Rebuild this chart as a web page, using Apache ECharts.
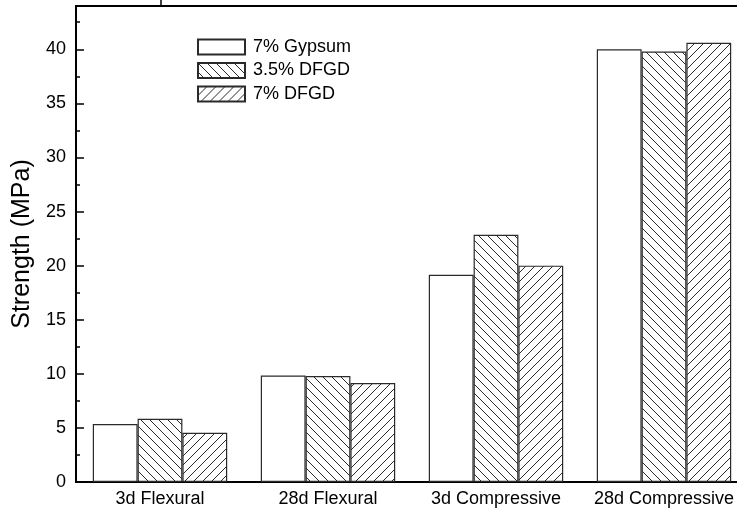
<!DOCTYPE html>
<html>
<head>
<meta charset="utf-8">
<script src="https://cdn.jsdelivr.net/npm/echarts@6/dist/echarts.min.js"></script>
<style>
html,body{margin:0;padding:0;background:#fff;}
#chart{width:737px;height:512px;}
</style>
</head>
<body>
<div id="chart"></div>
<script>
const categories = ['3d Flexural', '28d Flexural', '3d Compressive', '28d Compressive'];
const seriesNames = ['7% Gypsum', '3.5% DFGD', '7% DFGD'];
const gypsum7 = [5.35, 9.85, 19.15, 40.0];
const dfgd35 = [5.85, 9.8, 22.85, 39.8];
const dfgd7 = [4.55, 9.15, 20.0, 40.6];
const yTickLabels = [0, 5, 10, 15, 20, 25, 30, 35, 40];

function hatch(dir) {
  const s = 9;
  const c = document.createElement('canvas');
  c.width = s; c.height = s;
  const g = c.getContext('2d');
  g.fillStyle = '#fff';
  g.fillRect(0, 0, s, s);
  g.strokeStyle = '#2a2a2a';
  g.lineWidth = 1;
  g.beginPath();
  if (dir === 'back') {
    g.moveTo(-1, -1); g.lineTo(s + 1, s + 1);
    g.moveTo(-1, s - 1); g.lineTo(1, s + 1);
    g.moveTo(s - 1, -1); g.lineTo(s + 1, 1);
  } else {
    g.moveTo(-1, s + 1); g.lineTo(s + 1, -1);
    g.moveTo(-1, 1); g.lineTo(1, -1);
    g.moveTo(s - 1, s + 1); g.lineTo(s + 1, s - 1);
  }
  g.stroke();
  return c;
}

const chart = echarts.init(document.getElementById('chart'), null, {renderer: 'canvas'});
const fontFamily = '"Liberation Sans", Arial, sans-serif';
const border = {borderColor: '#2a2a2a', borderWidth: 1.2};

chart.setOption({
  animation: false,
  backgroundColor: '#fff',
  textStyle: {fontFamily: fontFamily},
  grid: {left: 76, width: 672, top: 6, bottom: 30, containLabel: false, outerBoundsMode: 'none',
         show: true, borderColor: '#000', borderWidth: 2, backgroundColor: 'transparent'},
  legend: {
    orient: 'vertical', left: 192, top: 33,
    icon: 'rect',
    itemWidth: 47, itemHeight: 15, itemGap: 5.5,
    textStyle: {fontSize: 18, color: '#000', fontFamily: fontFamily, padding: [0, 0, 0, 3]},
    data: seriesNames
  },
  xAxis: {
    type: 'category', data: categories,
    axisLine: {lineStyle: {color: '#000', width: 2}},
    axisTick: {show: false},
    axisLabel: {color: '#000', fontSize: 18, margin: 8, interval: 0},
    splitLine: {show: false}
  },
  yAxis: [{
    type: 'value', min: 0, max: 44, interval: 5,
    name: 'Strength (MPa)', nameLocation: 'middle', nameGap: 40,
    nameTextStyle: {fontSize: 25, color: '#000'},
    axisLine: {show: true, lineStyle: {color: '#000', width: 2}},
    axisTick: {show: true, inside: true, length: 8, lineStyle: {color: '#000', width: 1.5}},
    axisLabel: {color: '#000', fontSize: 18, margin: 10,
      formatter: v => yTickLabels.indexOf(v) >= 0 ? String(v) : ''},
    splitLine: {show: false}
  }, {
    type: 'value', min: 0, max: 44, interval: 2.5, position: 'left',
    axisLine: {show: false},
    axisTick: {show: true, inside: true, length: 4, lineStyle: {color: '#000', width: 1.5}},
    axisLabel: {show: false},
    splitLine: {show: false}
  }],
  series: [
    {name: seriesNames[0], type: 'bar', data: gypsum7, barGap: '0%', barCategoryGap: '20%',
     itemStyle: Object.assign({color: '#fff'}, border)},
    {name: seriesNames[1], type: 'bar', data: dfgd35, barGap: '0%', barCategoryGap: '20%',
     itemStyle: Object.assign({color: {image: hatch('back'), repeat: 'repeat'}}, border)},
    {name: seriesNames[2], type: 'bar', data: dfgd7, barGap: '0%', barCategoryGap: '20%',
     itemStyle: Object.assign({color: {image: hatch('fwd'), repeat: 'repeat'}}, border)}
  ],
  graphic: [{
    type: 'line', shape: {x1: 161, y1: 0, x2: 161, y2: 6},
    style: {stroke: '#000', lineWidth: 1.5}
  }]
});
</script>
</body>
</html>
